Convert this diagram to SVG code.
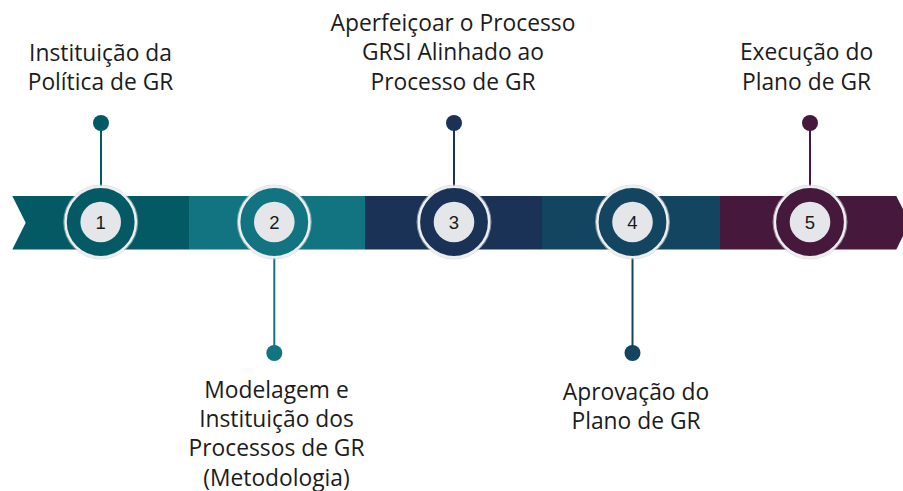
<svg xmlns="http://www.w3.org/2000/svg" width="903" height="491" viewBox="0 0 903 491">
<style>
.lbl{font-family:"Open Sans","Liberation Sans",sans-serif;font-size:22.8px;fill:#1c1c1c;text-anchor:middle}
.num{font-family:"Liberation Sans",Arial,sans-serif;font-size:18.5px;fill:#1a1a1a;text-anchor:middle}
.ring{stroke:#eceef0;stroke-width:2.6}
.halo{fill:none;stroke:#c9ccd0;stroke-width:1;opacity:0.6}
.inner{fill:#e4e6e9}
.pin{stroke-width:2;fill:none}
</style>
<rect width="903" height="491" fill="#ffffff"/>
<g id="band">
<polygon points="12.3,196 189,196 189,249.5 12.3,249.5 25.7,222.7" fill="#035a64"/>
<rect x="189" y="196" width="176" height="53.5" fill="#127480"/>
<rect x="365" y="196" width="177" height="53.5" fill="#193255"/>
<rect x="542" y="196" width="178" height="53.5" fill="#134560"/>
<polygon points="720,196 896.3,196 909.7,222.7 896.3,249.5 720,249.5" fill="#45183c"/>
</g>
<g id="connectors">
<line class="pin" x1="101" y1="123" x2="101" y2="186" stroke="#035a64"/>
<line class="pin" x1="274.3" y1="258" x2="274.3" y2="353" stroke="#127480"/>
<line class="pin" x1="454" y1="123" x2="454" y2="186" stroke="#193255"/>
<line class="pin" x1="632.5" y1="258" x2="632.5" y2="353" stroke="#134560"/>
<line class="pin" x1="810" y1="123" x2="810" y2="186" stroke="#45183c"/>
</g>
<g id="node1">
<circle cx="101" cy="123" r="8" fill="#035a64"/>
<circle class="halo" cx="100.7" cy="222" r="37"/>
<circle class="ring" cx="100.7" cy="222" r="35.2" fill="#035a64"/>
<circle class="inner" cx="100.7" cy="222" r="20.3"/>
<text class="num" x="100.7" y="228.6">1</text>
<text class="lbl" x="100.5" y="61">Instituição da</text>
<text class="lbl" x="100.5" y="90">Política de GR</text>
</g>
<g id="node2">
<circle cx="274.3" cy="353" r="8" fill="#127480"/>
<circle class="halo" cx="274.3" cy="222" r="37"/>
<circle class="ring" cx="274.3" cy="222" r="35.2" fill="#127480"/>
<circle class="inner" cx="274.3" cy="222" r="20.3"/>
<text class="num" x="274.3" y="228.6">2</text>
<text class="lbl" x="276.5" y="398">Modelagem e</text>
<text class="lbl" x="276.5" y="427">Instituição dos</text>
<text class="lbl" x="276.5" y="456">Processos de GR</text>
<text class="lbl" x="276.5" y="485.5">(Metodologia)</text>
</g>
<g id="node3">
<circle cx="454" cy="123" r="8" fill="#193255"/>
<circle class="halo" cx="454" cy="222" r="37"/>
<circle class="ring" cx="454" cy="222" r="35.2" fill="#193255"/>
<circle class="inner" cx="454" cy="222" r="20.3"/>
<text class="num" x="454" y="228.6">3</text>
<text class="lbl" x="453" y="31">Aperfeiçoar o Processo</text>
<text class="lbl" x="453" y="60">GRSI Alinhado ao</text>
<text class="lbl" x="453" y="90">Processo de GR</text>
</g>
<g id="node4">
<circle cx="632.5" cy="353" r="8" fill="#134560"/>
<circle class="halo" cx="632.5" cy="222" r="37"/>
<circle class="ring" cx="632.5" cy="222" r="35.2" fill="#134560"/>
<circle class="inner" cx="632.5" cy="222" r="20.3"/>
<text class="num" x="632.5" y="228.6">4</text>
<text class="lbl" x="636" y="400">Aprovação do</text>
<text class="lbl" x="636" y="429">Plano de GR</text>
</g>
<g id="node5">
<circle cx="810" cy="123" r="8" fill="#45183c"/>
<circle class="halo" cx="810" cy="222" r="37"/>
<circle class="ring" cx="810" cy="222" r="35.2" fill="#45183c"/>
<circle class="inner" cx="810" cy="222" r="20.3"/>
<text class="num" x="810" y="228.6">5</text>
<text class="lbl" x="806.5" y="60">Execução do</text>
<text class="lbl" x="806.5" y="90">Plano de GR</text>
</g>
</svg>
